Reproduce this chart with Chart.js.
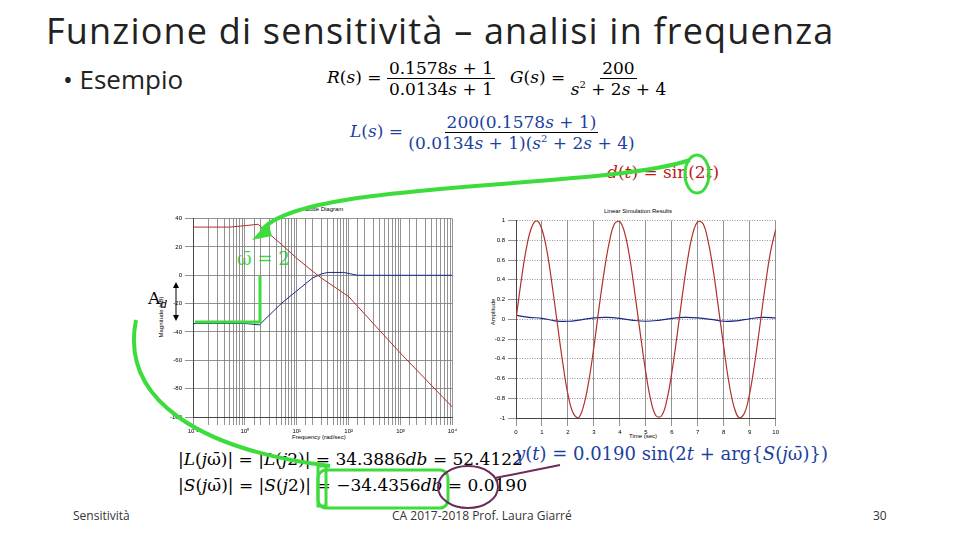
<!DOCTYPE html>
<html><head><meta charset="utf-8">
<script src="https://cdn.jsdelivr.net/npm/chart.js@4"></script>
<style>
body{margin:0;width:960px;height:540px;background:#fff;position:relative;overflow:hidden;font-family:"Open Sans","Noto Sans",sans-serif;}
.a{position:absolute;white-space:nowrap;}
.m{font-family:"DejaVu Serif","Liberation Serif",serif;}
.fr{display:inline-flex;flex-direction:column;align-items:center;vertical-align:middle;}
.fr span:first-child{border-bottom:1px solid #000;padding:0 2px;}
.sm{font-family:Arial,"Liberation Sans",sans-serif;font-size:6px;color:#000;}
canvas{position:absolute;}
</style></head><body>
<div class="a" style="left:46px;top:6px;font-size:36px;letter-spacing:1.2px;color:#222;">Funzione di sensitività – analisi in frequenza</div>
<div class="a" style="left:63px;top:61px;font-size:26px;color:#222;">• Esempio</div>
<div class="a m" style="left:327px;top:58px;font-size:17px;"><i>R</i>(<i>s</i>) = <span class="fr"><span>0.1578<i>s</i> + 1</span><span>0.0134<i>s</i> + 1</span></span></div>
<div class="a m" style="left:510px;top:58px;font-size:17px;"><i>G</i>(<i>s</i>) = <span class="fr"><span>200</span><span><i>s</i><sup style="font-size:10px">2</sup> + 2<i>s</i> + 4</span></span></div>
<div class="a m" style="left:350px;top:112px;font-size:17px;color:#1c3fa0;"><i>L</i>(<i>s</i>) = <span class="fr"><span>200(0.1578<i>s</i> + 1)</span><span>(0.0134<i>s</i> + 1)(<i>s</i><sup style="font-size:10px">2</sup> + 2<i>s</i> + 4)</span></span></div>
<div class="a m" style="left:607px;top:162px;font-size:17px;color:#c0181c;"><i>d</i>(<i>t</i>) = sin(2<i>t</i>)</div>
<div class="a m" style="left:237px;top:248px;font-size:18px;color:#3ddc3d;">ω̄ = 2</div>
<div class="a m" style="left:148px;top:288px;font-size:17px;">A<sub style="font-size:11px"><i>d</i></sub></div>
<div class="a sm" style="left:305px;top:206px;">Bode Diagram</div>
<div class="a sm" style="left:604px;top:208px;">Linear Simulation Results</div>
<div class="a sm" style="left:292px;top:434px;">Frequency (rad/sec)</div>
<div class="a sm" style="left:629px;top:433px;">Time (sec)</div>
<div class="a sm" style="left:140px;top:314px;transform:rotate(-90deg);">Magnitude (dB)</div>
<div class="a sm" style="left:480px;top:309px;transform:rotate(-90deg);">Amplitude</div>
<div class="a m" style="left:178px;top:449px;font-size:17px;">|<i>L</i>(<i>j</i>ω̄)| = |<i>L</i>(<i>j</i>2)| = 34.3886<i>db</i> = 52.4122</div>
<div class="a m" style="left:178px;top:475px;font-size:17px;">|<i>S</i>(<i>j</i>ω̄)| = |<i>S</i>(<i>j</i>2)| = −34.4356<i>db</i> = 0.0190</div>
<div class="a m" style="left:515px;top:443px;font-size:18px;color:#1c3fa0;"><i>y</i>(<i>t</i>) = 0.0190 sin(2<i>t</i> + arg{<i>S</i>(<i>j</i>ω̄)})</div>
<div class="a" style="left:73px;top:507px;font-size:12px;color:#333;">Sensitività</div>
<div class="a" style="left:392px;top:507px;font-size:12px;color:#333;">CA 2017-2018 Prof. Laura Giarré</div>
<div class="a" style="left:873px;top:507px;font-size:12px;color:#333;">30</div>
<canvas id="c1" style="left:150px;top:212px;width:310px;height:225px" width="310" height="225"></canvas>
<canvas id="c2" style="left:480px;top:214px;width:302px;height:224px" width="302" height="224"></canvas>
<svg class="a" style="left:0;top:0" width="960" height="540">
<path d="M690 160 C600 190 300 180 262 230" stroke="#3ddc3d" stroke-width="4" fill="none"/>
<polygon points="252,240 268,222 272,236" fill="#3ddc3d"/>
<ellipse cx="697" cy="174" rx="12" ry="19" stroke="#3ddc3d" stroke-width="3" fill="none"/>
<path d="M260 276 L260 322 L195 322" stroke="#3ddc3d" stroke-width="3" fill="none"/>
<path d="M136 320 C120 400 200 450 330 466" stroke="#3ddc3d" stroke-width="4" fill="none"/>
<rect x="318" y="466" width="8" height="40" fill="none" stroke="#3ddc3d" stroke-width="3"/>
<rect x="318" y="470" width="130" height="38" rx="8" fill="none" stroke="#3ddc3d" stroke-width="3"/>
<ellipse cx="468" cy="487" rx="30" ry="21" stroke="#6b2a5a" stroke-width="2" fill="none"/>
<path d="M495 478 L560 465" stroke="#6b2a5a" stroke-width="2"/>
<path d="M176 285 L176 318" stroke="#000" stroke-width="1"/>
<polygon points="173,288 176,282 179,288" fill="#000"/><polygon points="173,315 176,321 179,315" fill="#000"/>
</svg>
<script>
const bodeL=[[0.1,34],[0.5,34],[1,35],[1.8,36],[5,22],[10,12],[20,3],[30,-2],[100,-15],[1000,-55],[10000,-93]];
const bodeS=[[0.1,-34],[1,-34],[1.9,-35],[5,-20],[10,-11],[20,-2],[30,1],[40,2],[80,2],[150,0],[10000,0]];
const dVals=[0,0.39,0.72,0.93,1.00,0.91,0.68,0.33,-0.06,-0.44,-0.76,-0.95,-1.00,-0.88,-0.63,-0.28,0.12,0.49,0.79,0.97,0.99,0.86,0.59,0.22,-0.17,-0.54,-0.83,-0.98,-0.98,-0.83,-0.54,-0.17,0.23,0.59,0.86,0.99,0.97,0.79,0.49,0.11,-0.28,-0.64,-0.89,-1.00,-0.95,-0.75,-0.43,-0.05,0.34,0.68,0.91];
const dStep=0.2;
const yVals=[0.04,0.02,0.01,-0.015,-0.02,-0.005,0.015,0.02,0.01,-0.01,-0.02,-0.01,0.01,0.02,0.015,0,-0.02,-0.015,0.005,0.02,0.015];
const yStep=0.5;
const magTicks=[40,20,0,-20,-40,-60,-80,-100];
const sup={'-':'⁻','0':'⁰','1':'¹','2':'²','3':'³','4':'⁴'};
const tf={size:6,family:'Arial'};
const gridC='#777';
new Chart(document.getElementById('c1'),{type:'line',
data:{datasets:[
{data:bodeL.map(p=>({x:p[0],y:p[1]})),borderColor:'#b0302a',borderWidth:1,pointRadius:0},
{data:bodeS.map(p=>({x:p[0],y:p[1]})),borderColor:'#1a2a8a',borderWidth:1,pointRadius:0}]},
options:{animation:false,responsive:false,layout:{padding:{top:6,right:7}},plugins:{legend:{display:false},tooltip:{enabled:false}},
scales:{x:{type:'logarithmic',min:0.1,max:10000,border:{color:'#444'},grid:{color:gridC,lineWidth:0.8},
ticks:{font:tf,color:'#000',autoSkip:false,maxRotation:0,callback:(v)=>{const l=Math.log10(v);if(Math.abs(l-Math.round(l))<1e-6){return '10'+String(Math.round(l)).split('').map(c=>sup[c]).join('');}return '';}},afterFit:s=>{s.height=20;}},
y:{min:-100,max:40,border:{color:'#444'},grid:{color:gridC,lineWidth:0.8},afterBuildTicks:s=>{s.ticks=magTicks.map(v=>({value:v}));},
ticks:{font:tf,color:'#000'},afterFit:s=>{s.width=43;}}}}});
new Chart(document.getElementById('c2'),{type:'line',
data:{datasets:[
{data:dVals.map((v,i)=>({x:i*dStep,y:v})),borderColor:'#b0302a',borderWidth:1.2,pointRadius:0,tension:0.4},
{data:yVals.map((v,i)=>({x:i*yStep,y:v})),borderColor:'#1a2a8a',borderWidth:1.2,pointRadius:0,tension:0.4}]},
options:{animation:false,responsive:false,layout:{padding:{top:6,right:5}},plugins:{legend:{display:false},tooltip:{enabled:false}},
scales:{x:{type:'linear',min:0,max:10,border:{color:'#444'},grid:{color:gridC,lineWidth:0.8},ticks:{stepSize:1,font:tf,color:'#000',maxRotation:0},afterFit:s=>{s.height=20;}},
y:{min:-1,max:1,grid:{color:gridC,lineWidth:0.8},border:{color:'#444',dash:[1,1.5]},ticks:{stepSize:0.2,font:tf,color:'#000',callback:v=>Math.abs(v)<1e-9?'0':(Math.round(v*10)/10).toString()},afterFit:s=>{s.width=36;}}}}});
</script>
</body></html>
